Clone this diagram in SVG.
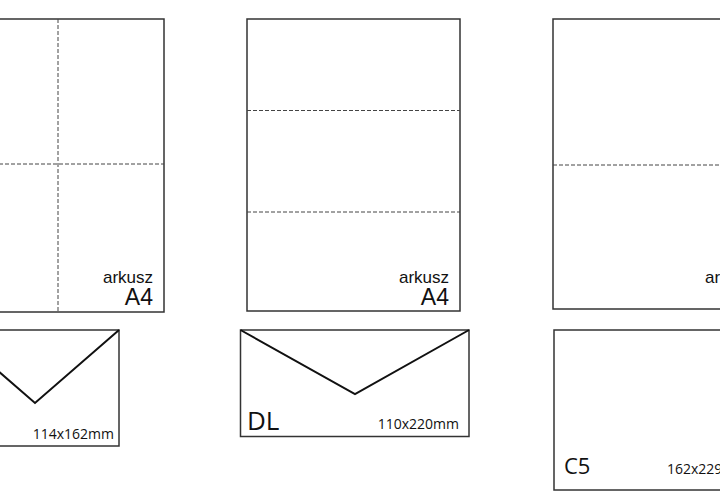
<svg xmlns="http://www.w3.org/2000/svg" width="720" height="500" viewBox="0 0 720 500">
<style>
.sheet{fill:#fff;stroke:#333;stroke-width:1.5}
.fold{fill:none;stroke:#444;stroke-width:1;stroke-dasharray:4 2}
.env{fill:#fff;stroke:#333;stroke-width:1.5}
.flap{fill:none;stroke:#111;stroke-width:2}
.ark{font-family:"Liberation Sans",Arial,sans-serif;fill:#111;text-anchor:end}
.lbl{font-family:"Open Sans","Noto Sans",sans-serif;fill:#111}
</style>
<rect width="720" height="500" fill="#fff"/>
<g id="sheet1">
<rect class="sheet" x="-49" y="19" width="213" height="293"/>
<line class="fold" x1="58" y1="19" x2="58" y2="312"/>
<line class="fold" x1="-49" y1="164" x2="164" y2="164"/>
<text class="ark" x="153" y="283" font-size="17">arkusz</text>
<text class="ark" x="153" y="305" font-size="23">A4</text>
</g>
<g id="sheet2">
<rect class="sheet" x="247" y="19" width="213" height="292"/>
<line class="fold" x1="247" y1="110.5" x2="460" y2="110.5"/>
<line class="fold" x1="247" y1="212" x2="460" y2="212"/>
<text class="ark" x="449" y="283" font-size="17">arkusz</text>
<text class="ark" x="449" y="305" font-size="23">A4</text>
</g>
<g id="sheet3">
<rect class="sheet" x="553" y="19" width="213" height="290"/>
<line class="fold" x1="553" y1="165" x2="766" y2="165"/>
<text class="ark" x="755" y="283" font-size="17">arkusz</text>
<text class="ark" x="755" y="305" font-size="23">A4</text>
</g>
<g id="env1">
<rect class="env" x="-49" y="330" width="168" height="116"/>
<polyline class="flap" points="-49,330 35,403 119,330"/>
<text class="lbl" x="114" y="439" font-size="14" text-anchor="end">114x162mm</text>
</g>
<g id="envDL">
<rect class="env" x="240.5" y="330" width="228.5" height="106.5"/>
<polyline class="flap" points="240.5,330 355,394 469,330"/>
<text class="lbl" x="247" y="430" font-size="26">DL</text>
<text class="lbl" x="459" y="429" font-size="14" text-anchor="end">110x220mm</text>
</g>
<g id="envC5">
<rect class="env" x="554" y="330" width="226" height="160"/>
<text class="lbl" x="564" y="474" font-size="22">C5</text>
<text class="lbl" x="667" y="474" font-size="14">162x229mm</text>
</g>
</svg>
